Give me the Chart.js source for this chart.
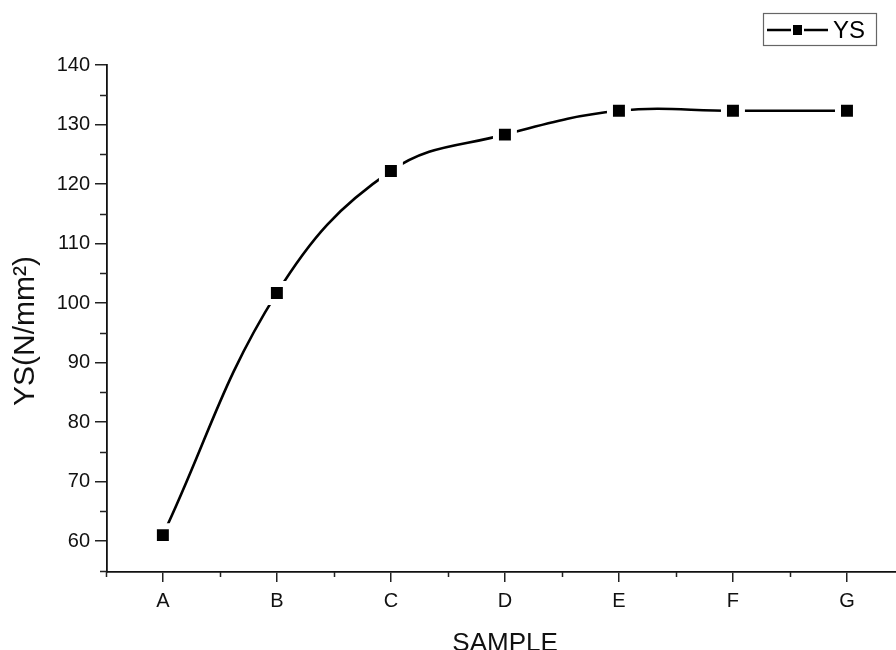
<!DOCTYPE html>
<html><head><meta charset="utf-8">
<script src="https://cdn.jsdelivr.net/npm/chart.js@4/dist/chart.umd.min.js"></script>
<style>html,body{margin:0;padding:0;background:#fff}#wrap{width:896px;height:650px}</style>
</head><body><div id="wrap"><canvas id="c" width="896" height="650"></canvas></div>
<script>
const categories = ['A','B','C','D','E','F','G'];
const ysValues = [61, 101.7, 122.2, 128.3, 132.3, 132.3, 132.3];
const seriesName = 'YS';
const xTitle = '\u00A0SAMPLE';
const yTitle = 'YS(N/mm\u00B2)\u00A0\u00A0\u00A0';

const FONT = '"Liberation Sans", Arial, sans-serif';

const legendPlugin = {
  id: 'originLegend',
  afterDraw(chart) {
    const ctx = chart.ctx;
    ctx.save();
    ctx.strokeStyle = '#666';
    ctx.lineWidth = 1.2;
    ctx.strokeRect(763.5, 13.5, 113, 32);
    ctx.strokeStyle = '#000';
    ctx.lineWidth = 2.5;
    ctx.beginPath(); ctx.moveTo(767, 30); ctx.lineTo(791, 30); ctx.moveTo(804, 30); ctx.lineTo(828, 30); ctx.stroke();
    ctx.fillStyle = '#000';
    ctx.fillRect(793, 25, 9, 10);
    ctx.font = '24px ' + FONT;
    ctx.textBaseline = 'middle';
    ctx.fillText(seriesName, 833, 31);
    ctx.restore();
  }
};

const minorTicks = {
  id: 'minorTicks',
  afterDraw(chart) {
    const ctx = chart.ctx;
    const xs = chart.scales.x, ys = chart.scales.y;
    ctx.save();
    ctx.strokeStyle = '#222';
    ctx.lineWidth = 1.5;
    ctx.beginPath();
    for (let v = 55; v < 140; v += 10) {
      const p = Math.round(ys.getPixelForValue(v)) + 0.5;
      ctx.moveTo(xs.left - 7, p); ctx.lineTo(xs.left, p);
    }
    for (let i = -0.5; i < categories.length; i += 1) {
      const p = Math.round(xs.getPixelForValue(i)) + 0.5;
      if (p < xs.left - 1 || p > xs.right) continue;
      ctx.moveTo(p, ys.bottom); ctx.lineTo(p, ys.bottom + 5);
    }
    ctx.stroke();
    ctx.restore();
  }
};

new Chart(document.getElementById('c'), {
  type: 'line',
  data: {
    datasets: [{
      label: seriesName,
      data: ysValues.map((v, i) => ({x: i, y: v})),
      borderColor: '#000',
      borderWidth: 2.6,
      tension: 0.4,
      pointStyle: 'rect',
      pointRadius: 12.7,
      pointBackgroundColor: '#000',
      pointBorderColor: '#fff',
      pointBorderWidth: 6,
      fill: false,
      clip: false
    }]
  },
  plugins: [legendPlugin, minorTicks],
  options: {
    responsive: false,
    animation: false,
    layout: {autoPadding: false, padding: {top: 65, right: 0, left: 0, bottom: 0}},
    plugins: {legend: {display: false}, tooltip: {enabled: false}},
    scales: {
      x: {
        type: 'linear',
        min: -0.49,
        max: 6.43,
        afterFit(s) { s.height = 78; },
        ticks: {
          stepSize: 1,
          includeBounds: false,
          autoSkip: false,
          maxRotation: 0,
          color: '#111',
          font: {family: FONT, size: 20},
          padding: 7,
          callback: (v) => Number.isInteger(v) && v >= 0 && v < categories.length ? categories[v] : ''
        },
        grid: {display: true, drawOnChartArea: false, drawTicks: true, tickLength: 10, color: '#222', lineWidth: 1.5},
        border: {display: true, color: '#111', width: 1.8},
        title: {display: true, text: xTitle, color: '#111', font: {family: FONT, size: 26}, padding: {top: 0, bottom: -9}}
      },
      y: {
        type: 'linear',
        min: 54.8,
        max: 140,
        afterFit(s) { s.width = 107; },
        ticks: {
          stepSize: 10,
          includeBounds: false,
          autoSkip: false,
          color: '#111',
          font: {family: FONT, size: 20},
          padding: 5,
          callback: (v) => String(v)
        },
        grid: {display: true, drawOnChartArea: false, drawTicks: true, tickLength: 12, color: '#222', lineWidth: 1.5},
        border: {display: true, color: '#111', width: 1.8},
        title: {display: true, text: yTitle, color: '#111', font: {family: FONT, size: 30}, padding: {top: 8, bottom: 0}}
      }
    }
  }
});
</script>
</body></html>
